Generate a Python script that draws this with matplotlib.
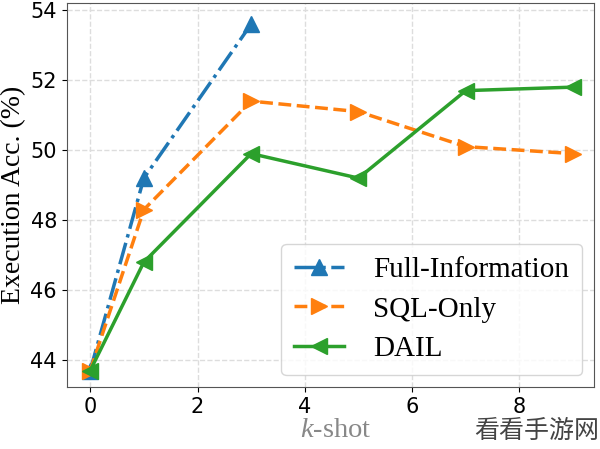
import matplotlib
matplotlib.use("Agg")
import matplotlib.pyplot as plt

plt.rcParams['mathtext.fontset'] = 'custom'
plt.rcParams['mathtext.it'] = 'Liberation Serif:italic'
plt.rcParams['mathtext.rm'] = 'Liberation Serif'

k_shot = [0, 1, 3, 5, 7, 9]
full_x = [0, 1, 3]
full_info = [43.7, 49.2, 53.6]
sql_only = [43.7, 48.3, 51.4, 51.1, 50.1, 49.9]
dail = [43.7, 46.8, 49.9, 49.2, 51.7, 51.8]
yticks = [44, 46, 48, 50, 52, 54]
xticks = [0, 2, 4, 6, 8]

fig = plt.figure(figsize=(6.0, 4.49), dpi=100)
ax = fig.add_axes([0.111, 0.138, 0.879, 0.855])

ax.plot(full_x, full_info, linestyle='-.', marker='^', color='#1f77b4',
        linewidth=2.5, markersize=11, label='Full-Information')
ax.plot(k_shot, sql_only, linestyle='--', marker='>', color='#ff7f0e',
        linewidth=2.5, markersize=11, label='SQL-Only')
ax.plot(k_shot, dail, linestyle='-', marker='<', color='#2ca02c',
        linewidth=2.5, markersize=11, label='DAIL')

ax.set_xticks(xticks)
ax.set_yticks(yticks)
ax.set_xlim(-0.44, 9.39)
ax.set_ylim(43.23, 54.2)
ax.tick_params(labelsize=15)
ax.grid(True, linestyle='--', color='#dddddd', linewidth=1)
for s in ax.spines.values():
    s.set_color('#555555')

ax.set_ylabel('Execution Acc. (%)', family='Liberation Serif', fontsize=20)
ax.yaxis.set_label_coords(-0.076, 0.5)
ax.set_xlabel(r'$k$-shot', family='Liberation Serif', fontsize=20.5, color='#888888')
ax.xaxis.set_label_coords(0.51, -0.08)

leg = ax.legend(loc='lower right', prop={'family': 'Liberation Serif', 'size': 21},
                handlelength=1.7, borderpad=0.45, labelspacing=0.45,
                handletextpad=1.0, borderaxespad=0.4)

fig.text(0.998, 0.012, '看看手游网', family='Noto Sans CJK SC', fontsize=18,
         color='#444444', ha='right', va='bottom')

fig.savefig('out.png', dpi=100)
